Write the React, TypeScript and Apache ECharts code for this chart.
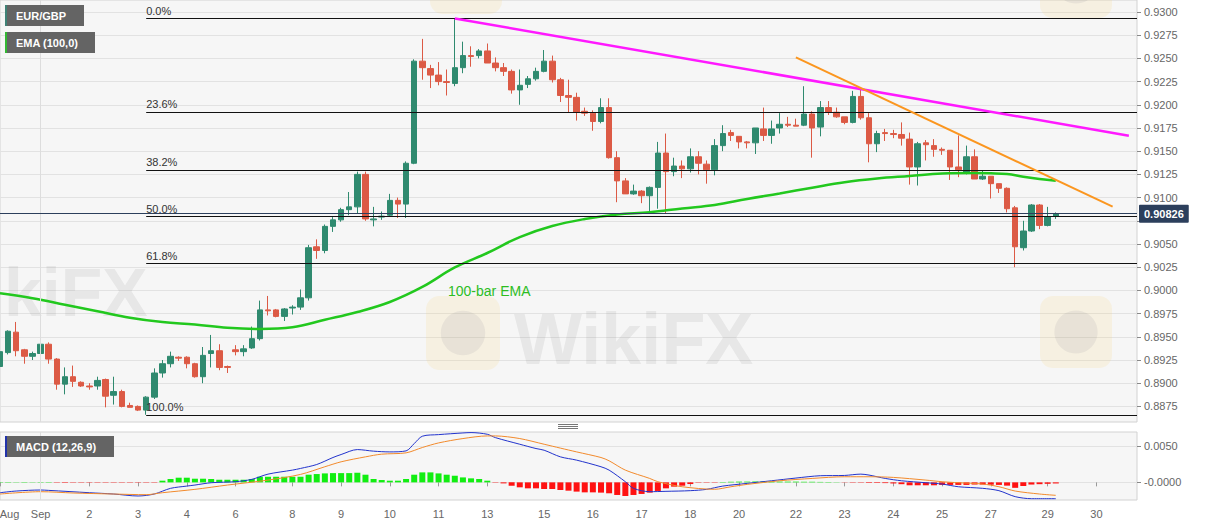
import React, { useEffect, useRef } from "react";
import * as echarts from "echarts";

const FONT = '"Liberation Sans", Arial, Helvetica, sans-serif';

// ---------- axis / labels ----------
const categoryCount = 141;
const tickIndex = [0, 5, 11, 17, 23, 29, 36, 42, 48, 54, 60, 67, 73, 79, 85, 91, 98, 104, 110, 116, 122, 129, 135];
const tickText = ["Aug", "Sep", "2", "3", "4", "6", "8", "9", "10", "11", "13", "15", "16", "17", "18", "20", "22", "23", "24", "25", "27", "29", "30"];
const monthStartIndex = 5;
const priceTicks = [0.8875, 0.89, 0.8925, 0.895, 0.8975, 0.9, 0.9025, 0.905, 0.9075, 0.91, 0.9125, 0.915, 0.9175, 0.92, 0.9225, 0.925, 0.9275, 0.93];
// 0.9075 label sits under the last-price box in the reference
const priceLabels = [0.8875, 0.89, 0.8925, 0.895, 0.8975, 0.9, 0.9025, 0.905, 0.91, 0.9125, 0.915, 0.9175, 0.92, 0.9225, 0.925, 0.9275, 0.93];
const macdTicks = [0, 0.005];
const priceMin = 0.88582;
const priceMax = 0.93129;
const macdMin = -0.00242;
const macdMax = 0.00691;

// ---------- candles: [open, high, low, close] ----------
const candles: number[][] = [
  [0.8918, 0.8935, 0.8916, 0.8934], [0.8933, 0.8957, 0.8931, 0.8956], [0.8955, 0.8966, 0.8929, 0.8935], [0.8936, 0.8937, 0.8921, 0.8929],
  [0.8929, 0.8934, 0.8925, 0.8932], [0.8932, 0.8946, 0.8931, 0.8942], [0.8942, 0.8944, 0.8921, 0.8926], [0.8926, 0.8927, 0.8893, 0.8899],
  [0.8899, 0.8917, 0.8888, 0.8907], [0.8907, 0.8919, 0.8896, 0.8902], [0.8901, 0.8902, 0.8896, 0.8897], [0.8897, 0.89, 0.8893, 0.8896],
  [0.8897, 0.8907, 0.8893, 0.8903], [0.8904, 0.8905, 0.8874, 0.8886], [0.8887, 0.8907, 0.8877, 0.8891], [0.8891, 0.8893, 0.8874, 0.8875],
  [0.8876, 0.8879, 0.8874, 0.8874], [0.8875, 0.8876, 0.887, 0.8871], [0.8871, 0.8886, 0.8866, 0.8885], [0.8885, 0.8916, 0.8883, 0.8911],
  [0.8911, 0.8925, 0.8906, 0.8921], [0.8921, 0.8934, 0.8917, 0.8929], [0.8928, 0.8929, 0.8924, 0.8927], [0.8928, 0.8929, 0.8916, 0.8921],
  [0.8921, 0.8922, 0.8906, 0.8907], [0.8907, 0.8939, 0.89, 0.893], [0.8932, 0.8952, 0.8917, 0.8935], [0.8935, 0.8942, 0.8914, 0.8917],
  [0.8918, 0.8919, 0.8911, 0.8917], [0.8936, 0.8941, 0.893, 0.8934], [0.8934, 0.8941, 0.8929, 0.8937], [0.8938, 0.8961, 0.8937, 0.8948],
  [0.8948, 0.8989, 0.8946, 0.8979], [0.8979, 0.8994, 0.8973, 0.8978], [0.8979, 0.898, 0.8971, 0.8972], [0.8972, 0.8981, 0.8967, 0.898],
  [0.8981, 0.8984, 0.8974, 0.8982], [0.8982, 0.9001, 0.8979, 0.8992], [0.8992, 0.9049, 0.8989, 0.9046], [0.9047, 0.9055, 0.9034, 0.9043],
  [0.9043, 0.9071, 0.904, 0.9069], [0.9069, 0.9079, 0.9063, 0.9076], [0.9076, 0.9089, 0.9074, 0.9087], [0.9087, 0.9106, 0.9081, 0.909],
  [0.909, 0.9128, 0.9083, 0.9125], [0.9125, 0.9128, 0.9075, 0.9077], [0.9076, 0.909, 0.9069, 0.9077], [0.9079, 0.9085, 0.9076, 0.908],
  [0.9081, 0.9104, 0.908, 0.9097], [0.9097, 0.91, 0.9078, 0.9093], [0.9093, 0.9139, 0.9078, 0.9137], [0.9137, 0.9249, 0.9136, 0.9247],
  [0.9247, 0.9271, 0.9227, 0.924], [0.9239, 0.9243, 0.9218, 0.9232], [0.9232, 0.9246, 0.9221, 0.9225], [0.9225, 0.9238, 0.921, 0.9224],
  [0.9223, 0.9293, 0.922, 0.924], [0.924, 0.9268, 0.9234, 0.9253], [0.9253, 0.9263, 0.9241, 0.9252], [0.9253, 0.926, 0.925, 0.9258],
  [0.9258, 0.9266, 0.9245, 0.9245], [0.9245, 0.9251, 0.9236, 0.924], [0.924, 0.9245, 0.9231, 0.9236], [0.9236, 0.9238, 0.9212, 0.9216],
  [0.9216, 0.9238, 0.92, 0.9221], [0.9222, 0.9231, 0.9218, 0.9228], [0.9228, 0.924, 0.9226, 0.9236], [0.9236, 0.9259, 0.9235, 0.9247],
  [0.9247, 0.9253, 0.9224, 0.9227], [0.9227, 0.9229, 0.9203, 0.921], [0.921, 0.9227, 0.9192, 0.9208], [0.9208, 0.9213, 0.9183, 0.9192],
  [0.9193, 0.9197, 0.9188, 0.9191], [0.9191, 0.9194, 0.9172, 0.9182], [0.9182, 0.9207, 0.918, 0.9197], [0.9197, 0.9207, 0.9142, 0.9143],
  [0.9143, 0.915, 0.9095, 0.9118], [0.9118, 0.9121, 0.9104, 0.9104], [0.9104, 0.9114, 0.9103, 0.9107], [0.9107, 0.9108, 0.9094, 0.9102],
  [0.9102, 0.9112, 0.9084, 0.9111], [0.9111, 0.916, 0.9088, 0.9148], [0.9148, 0.9169, 0.9083, 0.9128], [0.9128, 0.9143, 0.9123, 0.9134],
  [0.9134, 0.914, 0.9121, 0.9131], [0.9131, 0.9153, 0.9127, 0.9144], [0.9144, 0.915, 0.9125, 0.9137], [0.9136, 0.914, 0.9115, 0.913],
  [0.913, 0.9163, 0.9124, 0.9156], [0.9156, 0.9178, 0.915, 0.9169], [0.917, 0.9173, 0.9161, 0.9167], [0.9166, 0.9166, 0.9153, 0.916],
  [0.916, 0.9161, 0.9153, 0.9159], [0.9159, 0.9175, 0.9147, 0.9175], [0.9174, 0.9197, 0.9161, 0.9167], [0.9167, 0.9183, 0.9158, 0.9174],
  [0.9175, 0.9191, 0.9169, 0.9179], [0.9179, 0.9187, 0.9176, 0.9178], [0.9178, 0.9185, 0.9177, 0.9177], [0.9178, 0.922, 0.9177, 0.919],
  [0.919, 0.9193, 0.9143, 0.9175], [0.9176, 0.9204, 0.9166, 0.9197], [0.9197, 0.9204, 0.9189, 0.9192], [0.9192, 0.9197, 0.9186, 0.9187],
  [0.9187, 0.9187, 0.9179, 0.9181], [0.9181, 0.9215, 0.918, 0.9209], [0.9209, 0.9216, 0.9184, 0.9186], [0.9186, 0.9191, 0.9138, 0.9158],
  [0.9158, 0.9172, 0.9149, 0.9169], [0.917, 0.9174, 0.9161, 0.9169], [0.9169, 0.9173, 0.9164, 0.9168], [0.9168, 0.9181, 0.9156, 0.9164],
  [0.9163, 0.917, 0.9114, 0.9133], [0.9133, 0.916, 0.9113, 0.9158], [0.9159, 0.9162, 0.914, 0.9157], [0.9156, 0.9163, 0.9144, 0.9152],
  [0.9152, 0.9154, 0.9146, 0.9151], [0.9151, 0.9151, 0.9119, 0.9133], [0.9133, 0.9167, 0.9122, 0.913], [0.9127, 0.9156, 0.9125, 0.9144],
  [0.9144, 0.9152, 0.912, 0.912], [0.912, 0.9129, 0.9119, 0.9123], [0.9123, 0.9123, 0.9099, 0.9115], [0.9115, 0.9115, 0.9105, 0.911],
  [0.911, 0.9111, 0.9084, 0.9088], [0.9089, 0.9091, 0.9025, 0.9047], [0.9046, 0.9075, 0.9043, 0.9064], [0.9064, 0.9093, 0.9063, 0.9092],
  [0.9092, 0.9093, 0.9066, 0.907], [0.907, 0.909, 0.9069, 0.9079], [0.908, 0.9084, 0.9077, 0.90826],
];

// ---------- 100-bar EMA: [candle index, value] ----------
const emaPoints: number[][] = [
  [0, 0.89969], [4, 0.89916], [8, 0.89846], [12, 0.89776], [16, 0.89706], [20, 0.89659], [24, 0.89633], [28, 0.89597],
  [32, 0.89584], [36, 0.89602], [40, 0.89683], [44, 0.89767], [48, 0.89875], [52, 0.90037], [56, 0.90247], [60, 0.90403],
  [64, 0.90575], [68, 0.90694], [72, 0.90769], [76, 0.90818], [80, 0.90842], [84, 0.90883], [88, 0.9092], [92, 0.90985],
  [96, 0.91044], [100, 0.91107], [104, 0.91166], [108, 0.91206], [112, 0.91233], [116, 0.9126], [120, 0.91265], [122, 0.91262],
  [124, 0.91254], [126, 0.91225], [128, 0.912], [130, 0.91181],
];

// ---------- MACD (12,26,9) ----------
const macdPoints: number[][] = [
  [0, -0.00142], [2, -0.00119], [5, -0.00105], [6, -0.0011], [11, -0.00142], [14, -0.0016], [17, -0.00187], [19, -0.0016],
  [21, -0.00082], [23, -0.00051], [24, -0.00037], [26, -0.00005], [29, 0.00009], [31, 0.00041], [33, 0.00113], [36, 0.00168],
  [37, 0.00191], [39, 0.00245], [41, 0.00341], [42, 0.00382], [44, 0.0045], [46, 0.00428], [48, 0.00418], [50, 0.00432],
  [51, 0.00532], [52, 0.00633], [54, 0.00655], [57, 0.00678], [58, 0.00683], [60, 0.0066], [61, 0.00614], [64, 0.00523],
  [66, 0.00464], [67, 0.00441], [69, 0.0035], [71, 0.00305], [74, 0.00214], [75, 0.00168], [77, 0.00009], [78, -0.00082],
  [80, -0.00128], [82, -0.00123], [85, -0.00114], [87, -0.00096], [89, -0.00051], [92, -0.00014], [95, 0.00022], [98, 0.00059],
  [101, 0.00091], [104, 0.00095], [106, 0.00113], [107, 0.001], [109, 0.00054], [111, 0.00022], [114, -0.00005], [116, -0.00023],
  [118, -0.0006], [121, -0.00082], [123, -0.00114], [125, -0.00196], [127, -0.00224], [130, -0.00224],
];
const signalPoints: number[][] = [
  [0, -0.0016], [5, -0.00128], [9, -0.00146], [14, -0.0016], [18, -0.00169], [20, -0.00142], [24, -0.00096], [28, -0.00037],
  [33, 0.00031], [37, 0.00109], [40, 0.00214], [42, 0.00282], [45, 0.0035], [47, 0.00387], [50, 0.00405], [52, 0.00478],
  [54, 0.00541], [57, 0.00601], [60, 0.00637], [61, 0.00637], [64, 0.00601], [67, 0.00523], [69, 0.0047], [71, 0.00418],
  [74, 0.00341], [75, 0.00296], [77, 0.00168], [80, 0.00054], [81, 0.00009], [84, -0.0006], [88, -0.00095], [90, -0.0006],
  [92, -0.00028], [96, 0.00022], [100, 0.00054], [104, 0.00077], [107, 0.00077], [110, 0.00068], [114, 0.00031], [116, 0.00009],
  [118, -0.00005], [121, -0.00023], [123, -0.0006], [125, -0.00119], [128, -0.0016], [130, -0.00178],
];
const histogram: number[] = [
  0.00005, 0.00005, 0.00005, 0.00005, 0.00005, 0.00005, 0.00005,
  -0.00005, -0.00005, -0.00005, -0.00005, -0.00005, -0.00005, -0.00005, -0.00005, -0.00005, -0.00005, -0.00005, -0.00005, -0.00005,
  0.00023, 0.00046, 0.00064, 0.00064, 0.0005, 0.0005, 0.00046, 0.00036, 0.00036, 0.00036,
  0.00036, 0.00046, 0.00077, 0.00077, 0.00077, 0.00077, 0.00077, 0.00077, 0.00105, 0.00114,
  0.00123, 0.00127, 0.00127, 0.00127, 0.00132, 0.00105, 0.00046, 0.00032, 0.00023, 0.00023,
  0.00046, 0.00105, 0.00137, 0.00137, 0.00123, 0.00105, 0.00091, 0.00068, 0.00055, 0.00046,
  0.00023, -0.00005, -0.00014, -0.00046, -0.00068, -0.00082, -0.00082, -0.00091, -0.00091, -0.00105,
  -0.00114, -0.00127, -0.00137, -0.00137, -0.00141, -0.0015, -0.00173, -0.00187, -0.00173, -0.00159,
  -0.00141, -0.00118, -0.00082, -0.00059, -0.00046, -0.00023, -0.00005, -0.00005, -0.00005, 0.00005,
  0.00008, 0.0001, 0.0001, 0.00012, 0.00012, 0.00012, 0.0001, 0.0001, 0.0001, 0.00008,
  0.00008, 0.00006, 0.00005, 0.00003, -0.00003, -0.00005, -0.00005, -0.00008, -0.00008, -0.0001,
  -0.00015, -0.00025, -0.0004, -0.0004, -0.0004, -0.0004, -0.00035, -0.00035, -0.00035, -0.00035,
  -0.0003, -0.0003, -0.00032, -0.00035, -0.00045, -0.00075, -0.0005, -0.0003, -0.00025, -0.0002,
  -0.00015,
];

// ---------- drawings ----------
const fibRatios = [0, 0.236, 0.382, 0.5, 0.618, 1];
const fibLabels = ["0.0%", "23.6%", "38.2%", "50.0%", "61.8%", "100.0%"];
const fibStartIndex = 18;
const magentaTrend = [[56, 0.9293], [139, 0.91667]];
const orangeTrend = [[98, 0.9251], [137, 0.90902]];
const lastPrice = 0.90826;

const UP = "#2f8a6f";
const DOWN = "#dc5a45";

function logoMark(x: number, y: number, size: number): any[] {
  return [
    {
      type: "rect",
      z: 1,
      silent: true,
      shape: { x, y, width: size, height: size, r: size * 0.18 },
      style: { fill: "rgba(248,212,120,0.16)" },
    },
    {
      type: "circle",
      z: 1,
      silent: true,
      shape: { cx: x + size / 2, cy: y + size / 2, r: size * 0.3 },
      style: { fill: "rgba(110,110,130,0.10)" },
    },
  ];
}

function markText(x: number, y: number, size: number, text: string): any {
  return {
    type: "text",
    z: 1,
    silent: true,
    x,
    y,
    style: {
      text,
      font: `bold ${size}px ${FONT}`,
      fill: "rgba(110,110,110,0.11)",
      verticalAlign: "middle",
    },
  };
}

function legendBox(x: number, y: number, w: number, label: string, strip: string): any[] {
  return [
    { type: "rect", z: 100, shape: { x, y, width: w, height: 21 }, style: { fill: "#646464" } },
    { type: "rect", z: 101, shape: { x, y, width: 2, height: 21 }, style: { fill: strip } },
    {
      type: "text",
      z: 102,
      x: x + 11,
      y: y + 11,
      style: { text: label, font: `bold 11px ${FONT}`, fill: "#ffffff", verticalAlign: "middle" },
    },
  ];
}

function buildOption(): any {
  const cats = Array.from({ length: categoryCount }, (_, i) => String(i));
  const candleData = candles.map(([o, h, l, c]) => [o, c, l, h]);
  const fibHigh = Math.max(...candles.map((r) => r[1]));
  const fibLow = Math.min(...candles.map((r) => r[2]));
  const tickSet = new Set(tickIndex);

  const fibLines = fibRatios.map((r, k) => {
    const v = fibHigh - (fibHigh - fibLow) * r;
    return [
      {
        coord: [fibStartIndex, v],
        lineStyle: { color: "#111", width: 1.2, type: "solid" },
        label: {
          show: true,
          formatter: fibLabels[k],
          position: "insideStartTop",
          distance: [0, 2],
          color: "#333",
          fontSize: 11,
          fontFamily: FONT,
        },
      },
      { coord: [categoryCount - 1, v] },
    ];
  });

  return {
    animation: false,
    backgroundColor: "#ffffff",
    textStyle: { fontFamily: FONT },
    grid: [
      {
        left: 0,
        top: 0,
        width: 1137,
        height: 422,
        show: true,
        backgroundColor: "#f6f6f6",
        borderColor: "#d2d2d2",
        borderWidth: 1,
        containLabel: false,
        outerBoundsMode: "none",
      },
      {
        left: 0,
        top: 432,
        width: 1137,
        height: 68,
        show: true,
        backgroundColor: "#f6f6f6",
        borderColor: "#d2d2d2",
        borderWidth: 1,
        containLabel: false,
        outerBoundsMode: "none",
      },
    ],
    xAxis: [
      {
        type: "category",
        gridIndex: 0,
        data: cats,
        boundaryGap: false,
        axisLine: { show: false },
        axisTick: { show: false },
        axisLabel: { show: false },
        splitLine: { show: false },
      },
      {
        type: "category",
        gridIndex: 1,
        data: cats,
        boundaryGap: false,
        axisLine: { show: false },
        axisTick: {
          show: true,
          length: 4,
          interval: (i: number) => tickSet.has(i),
          lineStyle: { color: "#999" },
        },
        axisLabel: {
          show: true,
          interval: (i: number) => tickSet.has(i),
          formatter: (v: string) => {
            const k = tickIndex.indexOf(Number(v));
            if (k < 0) return "";
            if (k === 0) return "{a|" + tickText[0] + "}";
            return tickText[k];
          },
          rich: { a: { padding: [0, 0, 0, 19], color: "#666", fontSize: 11, fontFamily: FONT } },
          color: "#666",
          fontSize: 11,
          margin: 8,
          fontFamily: FONT,
        },
        splitLine: { show: false },
      },
    ],
    yAxis: [
      {
        type: "value",
        gridIndex: 0,
        position: "right",
        min: priceMin,
        max: priceMax,
        axisLine: { show: false },
        axisTick: { show: true, length: 4, customValues: priceTicks, lineStyle: { color: "#888" } },
        axisLabel: {
          show: true,
          customValues: priceLabels,
          formatter: (v: number) => v.toFixed(4),
          color: "#666",
          fontSize: 11,
          margin: 7,
          fontFamily: FONT,
        },
        splitLine: { show: true, lineStyle: { color: "#e2e2e2", width: 1 } },
      },
      {
        type: "value",
        gridIndex: 1,
        position: "right",
        min: macdMin,
        max: macdMax,
        axisLine: { show: false },
        axisTick: { show: true, length: 4, customValues: macdTicks, lineStyle: { color: "#888" } },
        axisLabel: {
          show: true,
          customValues: macdTicks,
          formatter: (v: number) => (Math.abs(v) < 1e-9 ? "-0.0000" : v.toFixed(4)),
          color: "#666",
          fontSize: 11,
          margin: 7,
          fontFamily: FONT,
        },
        splitLine: { show: true, lineStyle: { color: "#e2e2e2", width: 1 } },
      },
    ],
    series: [
      {
        type: "candlestick",
        xAxisIndex: 0,
        yAxisIndex: 0,
        data: candleData,
        barWidth: 6,
        clip: false,
        itemStyle: {
          color: UP,
          color0: DOWN,
          borderColor: UP,
          borderColor0: DOWN,
          borderWidth: 1,
        },
        markLine: {
          silent: true,
          symbol: ["none", "none"],
          animation: false,
          precision: 5,
          data: [
            { xAxis: monthStartIndex, lineStyle: { color: "#dddddd", width: 1, type: "solid" }, label: { show: false } },
            ...fibLines,
            [
              { coord: magentaTrend[0], lineStyle: { color: "#ff19ff", width: 2.5, type: "solid" }, label: { show: false } },
              { coord: magentaTrend[1] },
            ],
            [
              { coord: orangeTrend[0], lineStyle: { color: "#fb961f", width: 2, type: "solid" }, label: { show: false } },
              { coord: orangeTrend[1] },
            ],
            {
              yAxis: lastPrice,
              lineStyle: { color: "#2c3f5c", width: 1, type: "solid" },
              label: {
                show: true,
                position: "end",
                distance: 2,
                formatter: lastPrice.toFixed(5),
                backgroundColor: "#2c3f5c",
                color: "#ffffff",
                fontWeight: "bold",
                fontSize: 11,
                fontFamily: FONT,
                padding: [4, 5, 3, 5],
                borderRadius: 1,
              },
            },
          ],
        },
        z: 3,
      },
      {
        type: "line",
        name: "EMA",
        xAxisIndex: 0,
        yAxisIndex: 0,
        data: emaPoints,
        smooth: 0.4,
        showSymbol: false,
        symbol: "none",
        lineStyle: { color: "#22c81e", width: 2.5 },
        z: 4,
      },
      {
        type: "bar",
        name: "hist",
        xAxisIndex: 1,
        yAxisIndex: 1,
        data: histogram,
        barWidth: 6,
        itemStyle: {
          color: (p: any) => (p.value >= 0 ? "#11ee11" : "#ff1111"),
        },
        markLine: {
          silent: true,
          symbol: ["none", "none"],
          animation: false,
          data: [{ xAxis: monthStartIndex, lineStyle: { color: "#dddddd", width: 1, type: "solid" }, label: { show: false } }],
        },
        z: 3,
      },
      {
        type: "line",
        name: "MACD",
        xAxisIndex: 1,
        yAxisIndex: 1,
        data: macdPoints,
        smooth: 0.3,
        symbol: "none",
        lineStyle: { color: "#2233cc", width: 1 },
        z: 4,
      },
      {
        type: "line",
        name: "Signal",
        xAxisIndex: 1,
        yAxisIndex: 1,
        data: signalPoints,
        smooth: 0.3,
        symbol: "none",
        lineStyle: { color: "#f28a2c", width: 1 },
        z: 4,
      },
    ],
    graphic: [
      markText(4, 292, 68, "kiFX"),
      ...logoMark(426, 296, 74),
      markText(514, 339, 72, "WikiFX"),
      ...logoMark(1040, 296, 72),
      ...logoMark(1040, -54, 72),
      ...logoMark(430, -58, 72),
      ...legendBox(5, 5, 79, "EUR/GBP", "#3f8276"),
      ...legendBox(5, 32, 90, "EMA (100,0)", "#33b833"),
      ...legendBox(5, 436, 109, "MACD (12,26,9)", "#2233aa"),
      {
        type: "text",
        z: 50,
        x: 448,
        y: 291,
        style: { text: "100-bar EMA", font: `14px ${FONT}`, fill: "#2dbd1f", verticalAlign: "middle" },
      },
      { type: "line", z: 50, shape: { x1: 558, y1: 424.5, x2: 578, y2: 424.5 }, style: { stroke: "#777", lineWidth: 1 } },
      { type: "line", z: 50, shape: { x1: 558, y1: 426.5, x2: 578, y2: 426.5 }, style: { stroke: "#777", lineWidth: 1 } },
      { type: "line", z: 50, shape: { x1: 558, y1: 428.5, x2: 578, y2: 428.5 }, style: { stroke: "#777", lineWidth: 1 } },
    ],
  };
}

export default function App() {
  const ref = useRef<HTMLDivElement>(null);
  useEffect(() => {
    if (!ref.current) return;
    const chart = echarts.init(ref.current, null, { renderer: "svg" });
    chart.setOption(buildOption());
    return () => {
      chart.dispose();
    };
  }, []);
  return (
    <div
      ref={ref}
      style={{ position: "absolute", left: 0, top: 0, width: 1207, height: 526, background: "#ffffff" }}
    />
  );
}
